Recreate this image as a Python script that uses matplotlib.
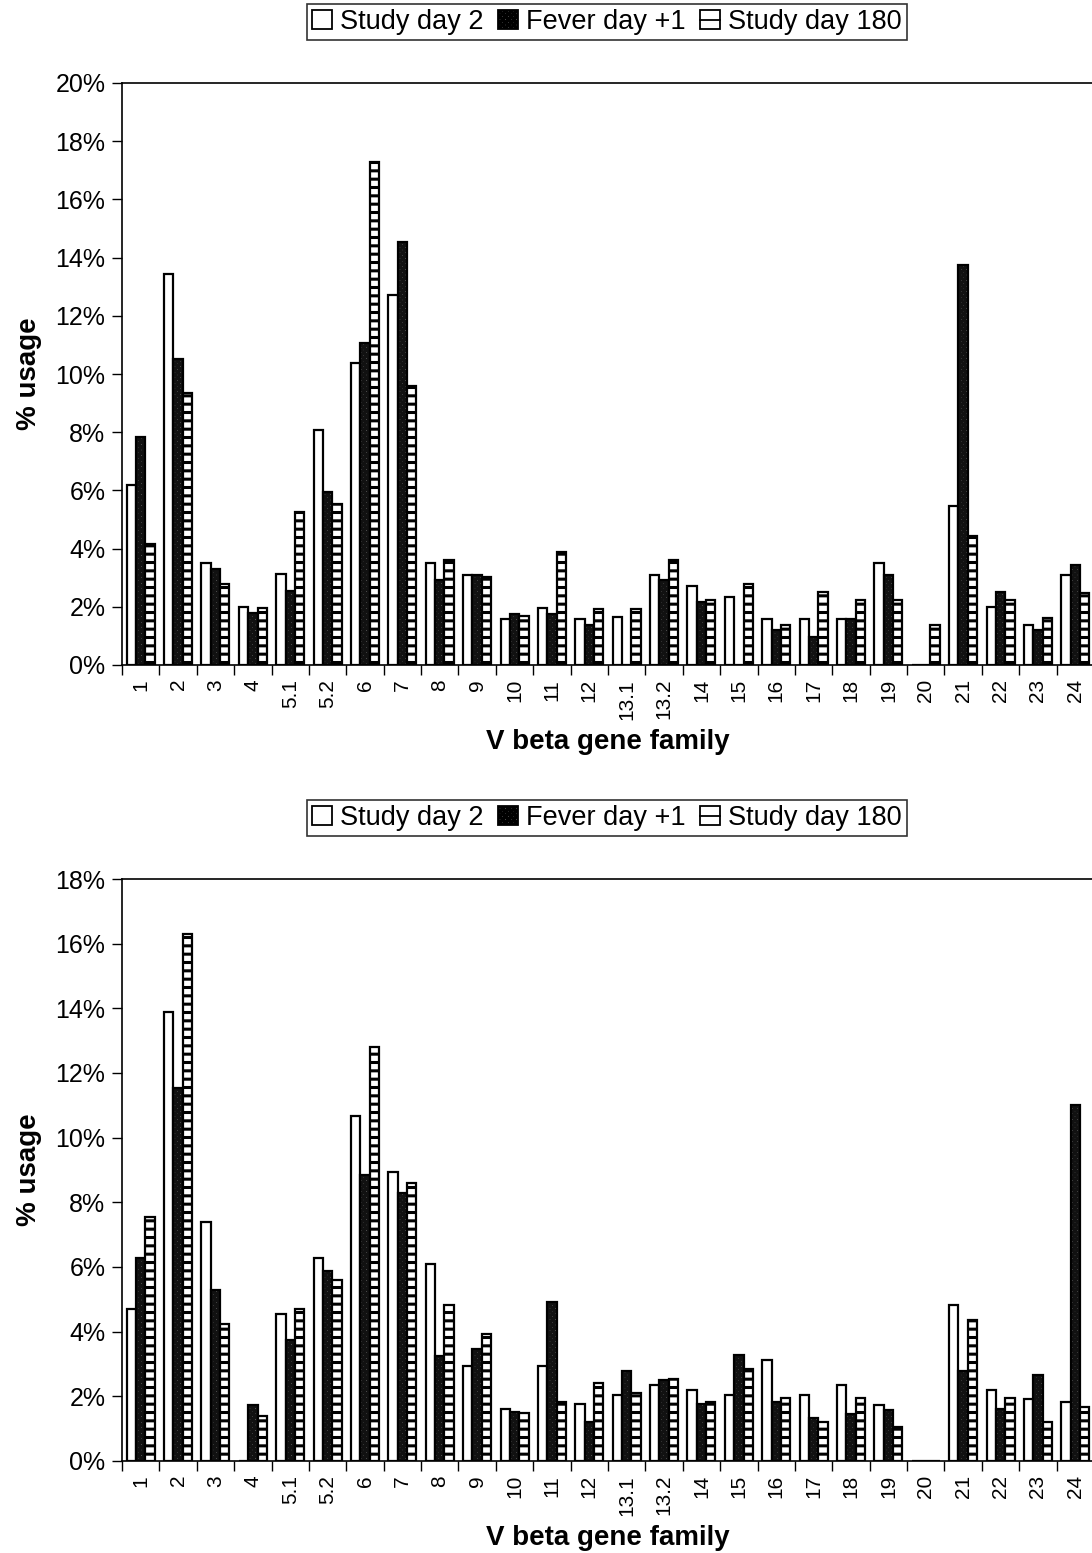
import matplotlib
matplotlib.use("Agg")
from matplotlib import pyplot as plt
from matplotlib.patches import Patch, Rectangle
from matplotlib.lines import Line2D
from matplotlib.legend_handler import HandlerBase
from matplotlib.ticker import FuncFormatter, FixedLocator
import numpy as np

plt.rcParams['font.family'] = ['Liberation Sans', 'DejaVu Sans']
plt.rcParams['hatch.linewidth'] = 2.2

families = ["1", "2", "3", "4", "5.1", "5.2", "6", "7", "8", "9", "10", "11", "12",
            "13.1", "13.2", "14", "15", "16", "17", "18", "19", "20", "21", "22", "23", "24"]
series_names = ["Study day 2", "Fever day +1", "Study day 180"]

# top panel (% usage)
top_day2 = [6.2, 13.45, 3.5, 1.98, 3.13, 8.08, 10.38, 12.72, 3.5, 3.1, 1.57, 1.96, 1.57,
            1.66, 3.1, 2.71, 2.34, 1.57, 1.57, 1.57, 3.5, 0, 5.45, 1.98, 1.37, 3.1]
top_fever = [7.85, 10.5, 3.3, 1.79, 2.53, 5.95, 11.08, 14.53, 2.92, 3.08, 1.76, 1.76, 1.37,
             0, 2.92, 2.15, 0, 1.2, 0.97, 1.57, 3.1, 0, 13.74, 2.51, 1.2, 3.43]
top_day180 = [4.16, 9.33, 2.79, 1.96, 5.25, 5.54, 17.29, 9.59, 3.6, 3.04, 1.68, 3.87, 1.92,
              1.92, 3.6, 2.22, 2.78, 1.39, 2.51, 2.25, 2.25, 1.39, 4.42, 2.22, 1.63, 2.46]

# bottom panel (% usage)
bot_day2 = [4.69, 13.9, 7.38, 0, 4.56, 6.27, 10.66, 8.93, 6.1, 2.95, 1.61, 2.95, 1.77,
            2.04, 2.35, 2.19, 2.04, 3.13, 2.04, 2.35, 1.73, 0, 4.84, 2.19, 1.92, 1.84]
bot_fever = [6.27, 11.54, 5.3, 1.72, 3.75, 5.87, 8.85, 8.28, 3.26, 3.47, 1.52, 4.92, 1.2,
             2.78, 2.5, 1.75, 3.27, 1.81, 1.32, 1.44, 1.59, 0, 2.78, 1.61, 2.67, 11.0]
bot_day180 = [7.56, 16.29, 4.25, 1.39, 4.7, 5.61, 12.8, 8.6, 4.84, 3.93, 1.5, 1.81, 2.42,
              2.1, 2.55, 1.81, 2.86, 1.96, 1.21, 1.95, 1.06, 0, 4.36, 1.95, 1.2, 1.66]

W, H = 1092, 1553
fig = plt.figure(figsize=(W / 100, H / 100), dpi=100)

FEVER_FACE = "#6e6e6e"


class BoxLineHandler(HandlerBase):
    # square with one horizontal line through the middle, like the original key
    def create_artists(self, legend, orig, xd, yd, width, height, fontsize, trans):
        r = Rectangle((-xd, -yd), width, height, facecolor="white",
                      edgecolor="black", linewidth=1.3, transform=trans)
        ln = Line2D([-xd, -xd + width], [-yd + height / 2] * 2, color="black",
                    linewidth=1.3, transform=trans)
        return [r, ln]


def draw_panel(top_px, data, ymax, legend_y):
    h_px = 582
    ax = fig.add_axes([122 / W, 1 - (top_px + h_px) / H, 972 / W, h_px / H])
    x = np.arange(len(families))
    bw = 0.25
    for k, vals in enumerate(data):
        pos = x + (k - 1) * bw
        if k == 0:
            ax.bar(pos, vals, bw, facecolor="white", edgecolor="black", linewidth=1.6)
        elif k == 1:
            ax.bar(pos, vals, bw, facecolor=FEVER_FACE, edgecolor="#111111",
                   hatch="xxxxxx", linewidth=0)
            ax.bar(pos, vals, bw, facecolor="none", edgecolor="black", linewidth=1.6)
        else:
            ax.bar(pos, vals, bw, facecolor="white", edgecolor="black",
                   hatch="--", linewidth=1.6)
    ax.set_xlim(-0.5, len(families) - 0.5)
    ax.set_ylim(0, ymax)
    ax.set_yticks(np.arange(0, ymax + 0.1, 2))
    ax.yaxis.set_major_formatter(FuncFormatter(lambda v, p: "%d%%" % v))
    ax.tick_params(axis="y", labelsize=18, length=7, width=1, pad=5)
    # category boundaries as tick marks, labels at centres
    ax.xaxis.set_major_locator(FixedLocator(np.arange(-0.5, len(families), 1.0)))
    ax.xaxis.set_minor_locator(FixedLocator(x))
    ax.set_xticklabels([], minor=False)
    ax.set_xticklabels(families, minor=True, rotation=90, fontsize=15)
    ax.tick_params(axis="x", which="major", length=7, width=1)
    ax.tick_params(axis="x", which="minor", length=0, pad=10)
    ax.spines["right"].set_visible(False)
    for s in ["left", "bottom", "top"]:
        ax.spines[s].set_linewidth(1.2)
    ax.set_ylabel("% usage", fontsize=20, fontweight="bold")
    ax.set_xlabel("V beta gene family", fontsize=20, fontweight="bold", va="top")
    ax.yaxis.set_label_coords((42 - 122) / 972, 0.5)
    ax.xaxis.set_label_coords(0.5, -64 / h_px)

    handles = [Patch(facecolor="white", edgecolor="black", linewidth=1.3),
               Patch(facecolor=FEVER_FACE, edgecolor="black", hatch="xxxxxx", linewidth=1.3),
               Patch(facecolor="white", edgecolor="black")]
    leg = fig.legend(handles, series_names, loc="center", ncol=3,
                     bbox_to_anchor=(607 / W, 1 - legend_y / H), fontsize=19.5,
                     frameon=True, fancybox=False, edgecolor="black",
                     handlelength=0.72, handleheight=0.72, handletextpad=0.3,
                     columnspacing=0.55, borderpad=0.2, borderaxespad=0,
                     handler_map={handles[2]: BoxLineHandler()})
    leg.get_frame().set_linewidth(1.2)
    return ax


draw_panel(83, [top_day2, top_fever, top_day180], 20, 22)
draw_panel(879, [bot_day2, bot_fever, bot_day180], 18, 818)

fig.savefig("out.png", dpi=100)
